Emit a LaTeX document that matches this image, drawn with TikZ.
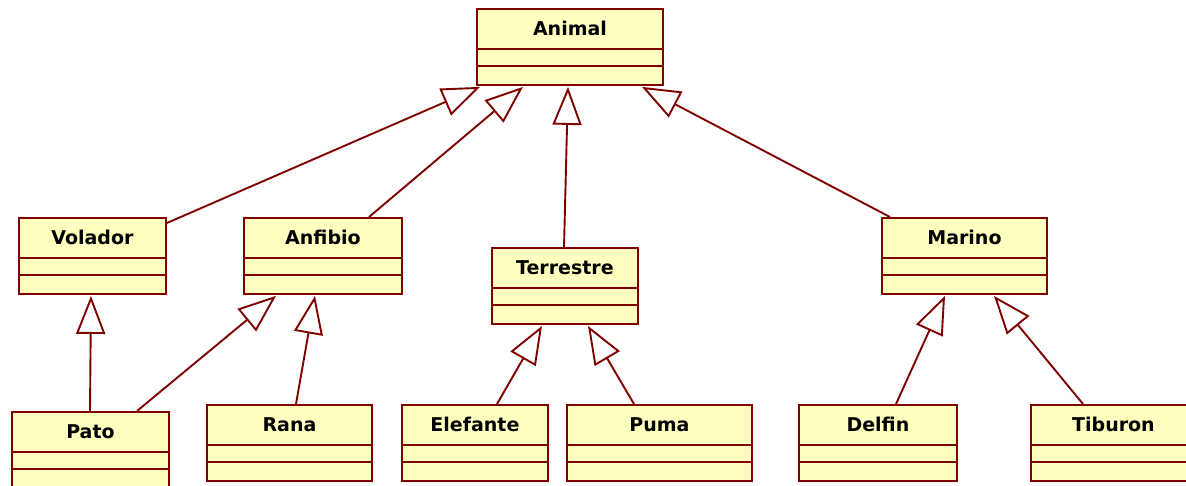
\documentclass[tikz,border=0pt]{standalone}
\usepackage{fontspec}
\setsansfont{DejaVu Sans}
\usetikzlibrary{arrows.meta,calc}
\definecolor{umlred}{RGB}{128,0,0}
\definecolor{umlfill}{RGB}{255,255,192}
\tikzset{
  classbox/.style={draw=umlred, fill=umlfill, line width=1.9pt, minimum height=76pt, anchor=north west, inner sep=0pt},
  classname/.style={font=\sffamily\bfseries\fontsize{19}{22}\selectfont, text height=13.8pt, text depth=0pt, inner sep=0pt},
  compline/.style={draw=umlred, line width=1.9pt},
  inherit/.style={draw=umlred, line width=1.9pt, -{Triangle[open, length=38pt, width=29pt]}},
}
\newcommand{\umlclass}[5]{%
  \node[classbox, minimum width=#5pt] (#1) at (#3,#4) {};
  \node[classname] (#1-title) at ($(#1.north)+(0,20.5)$) {#2};
  \draw[compline] ($(#1.north west)+(0,41)$) -- ++(#5+2,0);
  \draw[compline] ($(#1.north west)+(0,58)$) -- ++(#5+2,0);
}
\begin{document}
\begin{tikzpicture}[x=1pt, y=-1pt, line join=miter]
  \useasboundingbox[fill=white] (0,0) rectangle (1186,486);
  \umlclass{animal}{Animal}{476}{8}{186}
  \umlclass{volador}{Volador}{18}{217}{147}
  \umlclass{anfibio}{Anfibio}{243}{217}{158}
  \umlclass{terrestre}{Terrestre}{491}{247}{146}
  \umlclass{marino}{Marino}{881}{217}{165}
  \umlclass{pato}{Pato}{11}{411}{157}
  \umlclass{rana}{Rana}{206}{404}{165}
  \umlclass{elefante}{Elefante}{401}{404}{146}
  \umlclass{puma}{Puma}{566}{404}{185}
  \umlclass{delfin}{Delfin}{798}{404}{158}
  \umlclass{tiburon}{Tiburon}{1030}{404}{165}

  \draw[inherit] ($(volador.north east)+(0,6)$) -- ($(animal.south west)+(4,1)$);
  \draw[inherit] ($(anfibio.north west)+(126,0)$) -- ($(animal.south west)+(47,1)$);
  \draw[inherit] ($(terrestre.north west)+(73,0)$) -- ($(animal.south west)+(92,1)$);
  \draw[inherit] ($(marino.north west)+(9,0)$) -- ($(animal.south west)+(166,1)$);
  \draw[inherit] ($(pato.north west)+(79,0)$) -- ($(volador.south west)+(73,1)$);
  \draw[inherit] ($(pato.north west)+(126,0)$) -- ($(anfibio.south west)+(33,1)$);
  \draw[inherit] ($(rana.north west)+(90,0)$) -- ($(anfibio.south west)+(72,1)$);
  \draw[inherit] ($(elefante.north west)+(96,0)$) -- ($(terrestre.south west)+(51,1)$);
  \draw[inherit] ($(puma.north west)+(68,0)$) -- ($(terrestre.south west)+(97,1)$);
  \draw[inherit] ($(delfin.north west)+(98,0)$) -- ($(marino.south west)+(64,1)$);
  \draw[inherit] ($(tiburon.north west)+(53,0)$) -- ($(marino.south west)+(113,1)$);
\end{tikzpicture}
\end{document}
